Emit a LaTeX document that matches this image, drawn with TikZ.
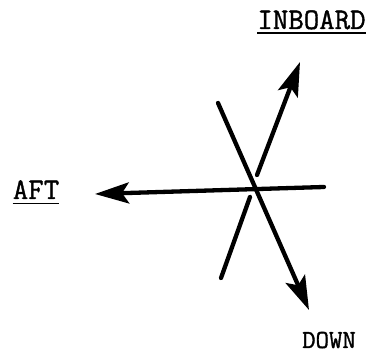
\documentclass[tikz,border=0pt]{standalone}
\usepackage{fontspec}
\newfontfamily\tw{Latin Modern Mono}[FakeBold=1.2]
\usetikzlibrary{arrows.meta}
\begin{document}
\begin{tikzpicture}[x=1pt,y=1pt,
  axis/.style={line width=4.3pt,line cap=round},
  tip/.style={-{Stealth[length=34pt,width=21pt,inset=7pt]}},
  lbl/.style={inner sep=0pt,anchor=base},
  uline/.style={line width=1.8pt}]
\useasboundingbox (0,0) rectangle (370,355);
% axis end points (y = 355 - pixel y)
\coordinate (hR) at (324,168);
\coordinate (hL) at (95,161);
\coordinate (dT) at (218,252);
\coordinate (dB) at (309,45);
\coordinate (iB) at (221,77);
\coordinate (iG1) at (250,158);
\coordinate (iG2) at (257,180);
\coordinate (iT) at (300,293);
% labels
\node[lbl,font=\tw\fontsize{30}{30}\selectfont] (ib) at (311.5,326) {INBOARD};
\node[lbl,font=\tw\fontsize{30}{30}\selectfont] (aft) at (36,156) {AFT};
\node[lbl,font=\tw\fontsize{26}{26}\selectfont] (dn) at (329,7) {DOWN};
\draw[uline] ([yshift=-4pt]ib.base west) -- ([yshift=-4pt]ib.base east);
\draw[uline] ([yshift=-4.5pt]aft.base west) -- ([yshift=-4.5pt]aft.base east);
% axes
\draw[axis,tip] (hR) -- (hL);
\draw[axis,tip] (dT) -- (dB);
\draw[axis] (iB) -- (iG1);
\draw[axis,tip] (iG2) -- (iT);
\end{tikzpicture}
\end{document}
